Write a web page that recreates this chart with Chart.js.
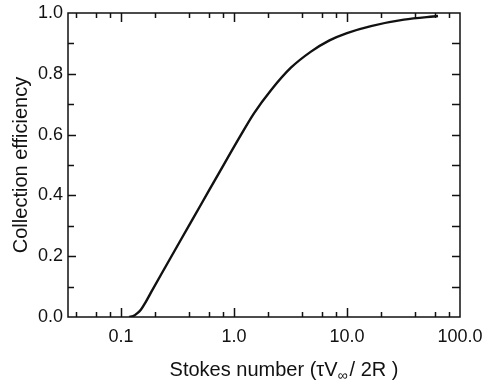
<!DOCTYPE html>
<html>
<head>
<meta charset="utf-8">
<script src="https://cdn.jsdelivr.net/npm/chart.js@4.4.1/dist/chart.umd.min.js"></script>
<style>
    html, body { margin: 0; padding: 0; background: #fff; }
    #wrap { width: 490px; height: 385px; }
</style>
</head>
<body>
<div id="wrap"><canvas id="collectionChart" width="490" height="385"></canvas></div>
<script>
// Values
var stokesNumber = [0.118, 0.128, 0.138, 0.150, 0.166, 0.184, 0.226, 0.340, 0.511, 0.767, 1.153, 1.503, 2.125, 3.19, 4.80, 7.0, 10, 16.3, 31.9, 63.9];
var efficiency = [0, 0.003, 0.011, 0.024, 0.050, 0.080, 0.139, 0.255, 0.370, 0.485, 0.599, 0.670, 0.746, 0.820, 0.873, 0.910, 0.934, 0.957, 0.978, 0.990];

// Axis ticks
var xLabelTicks = [0.1, 1, 10, 100];
var xMinorTicks = [0.04, 0.06, 0.08, 0.2, 0.4, 0.6, 0.8, 2, 4, 6, 8, 20, 40, 60, 80];
var yMajorTicks = [0, 0.2, 0.4, 0.6, 0.8, 1.0];
var yMinorTicks = [0.1, 0.3, 0.5, 0.7, 0.9];

var xTitleParts = ["Stokes number (τV", "∞", "/ 2R )"];
var yTitle = "Collection efficiency";

var FONT = "'Liberation Sans', Arial, sans-serif";

// draws the closed frame, inward tick marks and both axis titles
var framePlugin = {
    id: 'frame',
    afterDraw: function (chart) {
        var ctx = chart.ctx;
        var area = chart.chartArea;
        var xs = chart.scales.x;
        var ys = chart.scales.y;
        ctx.save();
        ctx.strokeStyle = '#111';
        ctx.lineWidth = 1.5;
        ctx.strokeRect(area.left, area.top, area.right - area.left, area.bottom - area.top);

        ctx.beginPath();
        function xTick(v, len) {
            var px = Math.round(xs.getPixelForValue(v)) + 0.5;
            ctx.moveTo(px, area.bottom);
            ctx.lineTo(px, area.bottom - len);
            ctx.moveTo(px, area.top);
            ctx.lineTo(px, area.top + len);
        }
        xLabelTicks.forEach(function (v) { if (v < 100) xTick(v, 9); });
        xMinorTicks.forEach(function (v) { xTick(v, 5); });

        function yTick(v, len) {
            var py = Math.round(ys.getPixelForValue(v)) + 0.5;
            ctx.moveTo(area.left, py);
            ctx.lineTo(area.left + len, py);
            ctx.moveTo(area.right, py);
            ctx.lineTo(area.right - 8, py);
        }
        yMajorTicks.forEach(function (v) { if (v > 0 && v < 1) yTick(v, 8); });
        yMinorTicks.forEach(function (v) { yTick(v, 6); });
        ctx.stroke();

        ctx.fillStyle = '#111';
        var big = '20px ' + FONT;
        var small = '14px ' + FONT;

        // x axis title, with the subscript infinity
        ctx.textBaseline = 'alphabetic';
        ctx.textAlign = 'left';
        ctx.font = big;
        var w0 = ctx.measureText(xTitleParts[0]).width;
        var w2 = ctx.measureText(xTitleParts[2]).width;
        ctx.font = small;
        var w1 = ctx.measureText(xTitleParts[1]).width;
        var cx = (area.left + area.right) / 2 + 20;
        var base = 376;
        var x0 = cx - (w0 + w1 + w2 + 2) / 2;
        ctx.font = big;
        ctx.fillText(xTitleParts[0], x0, base);
        ctx.font = small;
        ctx.fillText(xTitleParts[1], x0 + w0, base + 4);
        ctx.font = big;
        ctx.fillText(xTitleParts[2], x0 + w0 + w1 + 2, base);

        // y axis title
        ctx.translate(27, (area.top + area.bottom) / 2);
        ctx.rotate(-Math.PI / 2);
        ctx.textAlign = 'center';
        ctx.font = big;
        ctx.fillText(yTitle, 0, 0);
        ctx.restore();
    }
};

var ctx = document.getElementById('collectionChart').getContext('2d');
var collectionChart = new Chart(ctx, {
    type: 'line',
    data: {
        datasets: [{
            data: stokesNumber.map(function (s, i) { return { x: s, y: efficiency[i] }; }),
            borderColor: '#111',
            borderWidth: 2.4,
            pointRadius: 0,
            fill: false,
            cubicInterpolationMode: 'monotone'
        }]
    },
    options: {
        responsive: false,
        animation: false,
        layout: { padding: { top: 13, right: 30, left: 0, bottom: 0 } },
        plugins: {
            legend: { display: false },
            tooltip: { enabled: false }
        },
        scales: {
            x: {
                type: 'logarithmic',
                min: 0.034,
                max: 100,
                grid: { display: false, drawTicks: false },
                border: { display: false },
                afterBuildTicks: function (scale) {
                    scale.ticks = xLabelTicks.map(function (v) { return { value: v }; });
                },
                afterFit: function (scale) {
                    scale.height = 68;
                    scale.paddingLeft = 0;
                    scale.paddingRight = 0;
                },
                ticks: {
                    autoSkip: false,
                    maxRotation: 0,
                    padding: 9,
                    color: '#111',
                    font: { family: FONT, size: 18 },
                    callback: function (value) { return Number(value).toFixed(1); }
                }
            },
            y: {
                min: 0,
                max: 1,
                grid: { display: false, drawTicks: false },
                border: { display: false },
                afterBuildTicks: function (scale) {
                    scale.ticks = yMajorTicks.map(function (v) { return { value: v }; });
                },
                afterFit: function (scale) {
                    scale.width = 68;
                    scale.paddingTop = 0;
                    scale.paddingBottom = 0;
                },
                ticks: {
                    padding: 5,
                    color: '#111',
                    font: { family: FONT, size: 18 },
                    callback: function (value) { return Number(value).toFixed(1); }
                }
            }
        }
    },
    plugins: [framePlugin]
});
</script>
</body>
</html>
